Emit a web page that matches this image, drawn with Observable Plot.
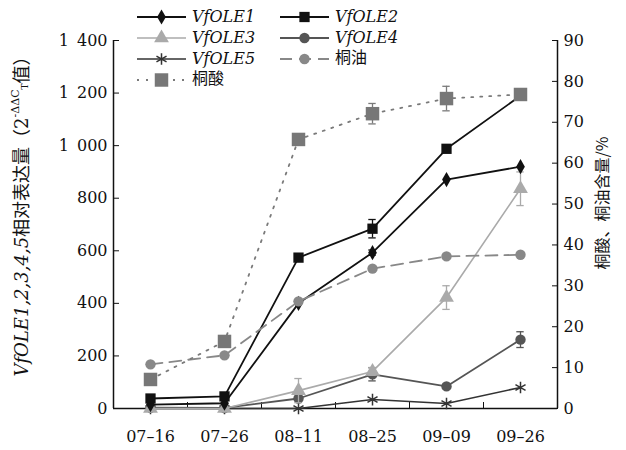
<!DOCTYPE html>
<html><head><meta charset="utf-8">
<script src="https://cdn.jsdelivr.net/npm/d3@7"></script>
<script src="https://cdn.jsdelivr.net/npm/@observablehq/plot@0.6"></script>
<style>
body{margin:0;background:#fff;}
#wrap{position:relative;width:626px;height:450px;}
#legend{position:absolute;left:0;top:0;pointer-events:none;}
</style></head><body><div id="wrap"></div>
<script>
const dates = ["07–16","07–26","08–11","08–25","09–09","09–26"];
const vfole1 = [15, 20, 400, 593, 871, 920];
const vfole1Err = [0, 0, 0, 10, 0, 0];
const vfole2 = [38, 46, 574, 684, 988, 1190];
const vfole2Err = [0, 0, 0, 35, 0, 0];
const vfole3 = [0, 0, 68, 141, 422, 836];
const vfole3Err = [0, 0, 46, 15, 45, 64];
const vfole4 = [3, 2, 38, 130, 84, 262];
const vfole4Err = [0, 0, 0, 25, 8, 30];
const vfole5 = [0, 0, 0, 34, 19, 80];
const vfole5Err = [0, 0, 0, 0, 0, 0];
const tungAcid = [7.1, 16.4, 65.8, 72.1, 75.8, 76.8];   // 桐酸 %
const tungAcidErr = [0, 1, 0, 2.5, 3, 0];
const tungOil = [10.8, 13.0, 26.2, 34.2, 37.2, 37.6];  // 桐油 %
const tungOilErr = [0, 0, 0, 0, 0, 0];
const leftTicks = [0, 200, 400, 600, 800, 1000, 1200, 1400];
const rightTicks = [0, 10, 20, 30, 40, 50, 60, 70, 80, 90];

const K = 1400 / 90; // right-axis values mapped to left scale
const series = [
  {name:"VfOLE5", v:vfole5, e:vfole5Err, right:false, color:"#333", symbol:"asterisk", r:5.5, fill:"none", dash:null, w:1.6, italic:true},
  {name:"VfOLE4", v:vfole4, e:vfole4Err, right:false, color:"#555", symbol:"circle", r:5.2, fill:"#555", dash:null, w:1.8, italic:true},
  {name:"VfOLE3", v:vfole3, e:vfole3Err, right:false, color:"#aaa", symbol:"triangle", r:5.5, fill:"#aaa", dash:null, w:1.6, italic:true},
  {name:"VfOLE1", v:vfole1, e:vfole1Err, right:false, color:"#111", symbol:"diamond", r:4.6, fill:"#111", dash:null, w:1.8, italic:true},
  {name:"VfOLE2", v:vfole2, e:vfole2Err, right:false, color:"#111", symbol:"square", r:5.8, fill:"#111", dash:null, w:1.8, italic:true},
  {name:"桐油", v:tungOil, e:tungOilErr, right:true, color:"#888", symbol:"circle", r:5.2, fill:"#888", dash:"12,7", w:1.8, italic:false},
  {name:"桐酸", v:tungAcid, e:tungAcidErr, right:true, color:"#7a7a7a", symbol:"square", r:7.6, fill:"#777", dash:"2,7", w:1.8, italic:false},
];

const marks = [];
for (const s of series) {
  const rows = s.v.map((v, i) => ({i, y: s.right ? v * K : v, e: s.right ? s.e[i] * K : s.e[i]}));
  marks.push(Plot.line(rows, {x:"i", y:"y", stroke:s.color, strokeWidth:s.w, strokeDasharray:s.dash}));
  const er = rows.filter(d => d.e > 0);
  marks.push(Plot.ruleX(er, {x:"i", y1:d=>d.y-d.e, y2:d=>d.y+d.e, stroke:s.color, strokeWidth:1.3}));
  marks.push(Plot.ruleY(er, {y:d=>d.y-d.e, x1:d=>d.i-0.05, x2:d=>d.i+0.05, stroke:s.color, strokeWidth:1.3}));
  marks.push(Plot.ruleY(er, {y:d=>d.y+d.e, x1:d=>d.i-0.05, x2:d=>d.i+0.05, stroke:s.color, strokeWidth:1.3}));
  marks.push(Plot.dot(rows, {x:"i", y:"y", symbol:s.symbol, r:s.r, fill:s.fill, stroke:s.symbol==="asterisk"?s.color:"none", strokeWidth:1.5}));
}

const fmtLeft = v => v >= 1000 ? Math.floor(v/1000) + "\u2002" + String(v%1000).padStart(3,"0") : String(v);

const chart = Plot.plot({
  width: 626, height: 450,
  marginLeft: 113, marginRight: 69, marginTop: 40, marginBottom: 42,
  style: {fontFamily: "'DejaVu Serif', 'Noto Sans CJK SC', serif", fontSize: "16px", color: "#111", background: "#fff"},
  x: {type:"linear", domain:[-0.5, 5.5]},
  y: {domain:[0, 1400]},
  marks: [
    Plot.axisY({ticks:leftTicks, tickFormat:fmtLeft, tickSize:-6, tickPadding:12, label:null, fontSize:16}),
    Plot.axisY({anchor:"right", ticks:rightTicks.map(v => v*K), tickFormat:v => String(Math.round(v/K)), tickSize:-6, tickPadding:12, label:null, fontSize:16}),
    Plot.axisX({ticks:dates.map((d,i)=>i), tickFormat:i => dates[i], tickSize:0, tickPadding:22, label:null, fontSize:16}),
    Plot.axisX({ticks:dates.slice(1).map((d,i)=>i+0.5), tickFormat:()=>"", tickSize:-6, label:null}),
    Plot.ruleX([-0.5, 5.5], {stroke:"#111", strokeWidth:1.5}),
    Plot.ruleY([0], {stroke:"#111", strokeWidth:1.5}),
    ...marks
  ]
});
document.getElementById("wrap").appendChild(chart);

const svg = d3.select(chart);
// left axis title
const lt = svg.append("text")
  .attr("transform", "translate(23,212) rotate(-90)")
  .attr("text-anchor", "middle")
  .attr("dominant-baseline", "middle")
  .style("font-family", "'DejaVu Serif','Noto Sans CJK SC',serif")
  .style("font-size", "18px").attr("fill", "#111");
lt.append("tspan").attr("font-style", "italic").text("VfOLE1,2,3,4,5");
lt.append("tspan").style("font-family","'Noto Sans CJK SC'").text("相对表达量（");
lt.append("tspan").text("2");
lt.append("tspan").attr("dy", -7).style("font-size","11px").text("-ΔΔC");
lt.append("tspan").attr("dy", 9).style("font-size","9px").text("T");
lt.append("tspan").attr("dy", -2).style("font-family","'Noto Sans CJK SC'").text("值）");
// right axis title
svg.append("text")
  .attr("transform", "translate(604,203) rotate(-90)")
  .attr("text-anchor", "middle")
  .attr("dominant-baseline", "middle")
  .style("font-family", "'Noto Sans CJK SC',sans-serif")
  .style("font-size", "16px").attr("fill", "#111")
  .text("桐酸、桐油含量/%");

// legend overlay
const legendOrder = ["VfOLE1","VfOLE2","VfOLE3","VfOLE4","VfOLE5","桐油","桐酸"];
const lg = d3.select("#wrap").append("svg").attr("id","legend").attr("width",626).attr("height",100);
legendOrder.forEach((n, k) => {
  const s = series.find(d => d.name === n);
  const col = k % 2, row = Math.floor(k / 2);
  const x0 = col ? 280 : 137, cy = 17 + row * 21;
  const g = lg.append("g").attr("transform", `translate(${x0},${cy})`);
  g.append("line").attr("x1",0).attr("x2",49).attr("y1",0).attr("y2",0)
    .attr("stroke", s.color).attr("stroke-width", s.w).attr("stroke-dasharray", s.dash);
  const sym = {asterisk:d3.symbolAsterisk, circle:d3.symbolCircle, triangle:d3.symbolTriangle, diamond:d3.symbolDiamond, square:d3.symbolSquare}[s.symbol];
  g.append("path").attr("transform","translate(24.5,0)").attr("d", d3.symbol(sym, Math.PI*s.r*s.r)())
    .attr("fill", s.fill).attr("stroke", s.symbol==="asterisk"?s.color:"none").attr("stroke-width",1.5);
  g.append("text").attr("x", 55).attr("y", 0).attr("dominant-baseline","middle")
    .style("font-family", s.italic ? "'DejaVu Serif',serif" : "'Noto Sans CJK SC',sans-serif")
    .style("font-style", s.italic ? "italic" : "normal")
    .style("font-size", "16px").attr("fill","#111").text(n);
});
</script></body></html>
